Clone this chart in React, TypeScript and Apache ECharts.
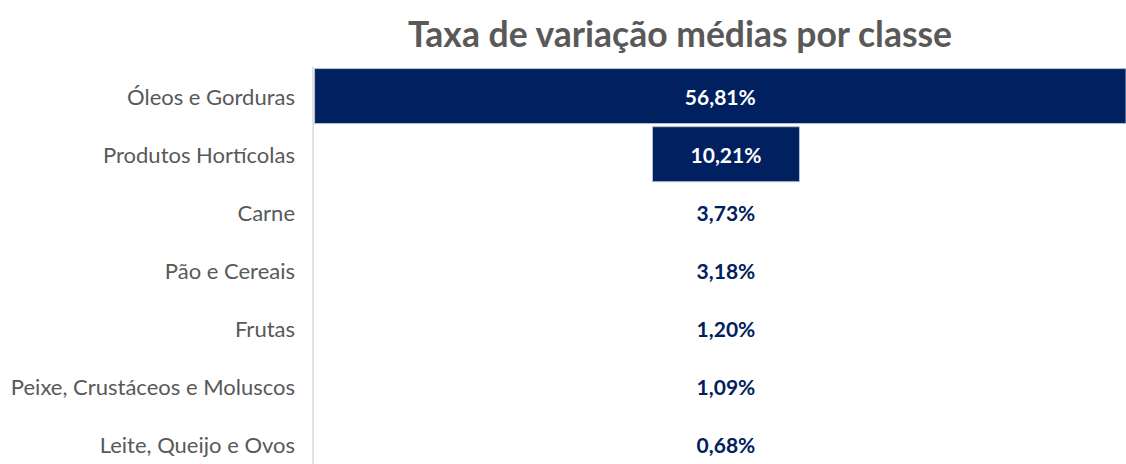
import React, { useEffect, useRef } from "react";
import * as echarts from "echarts";

const categories = [
  "Óleos e Gorduras",
  "Produtos Hortícolas",
  "Carne",
  "Pão e Cereais",
  "Frutas",
  "Peixe, Crustáceos e Moluscos",
  "Leite, Queijo e Ovos",
];
const values = [56.81, 10.21, 3.73, 3.18, 1.2, 1.09, 0.68];
const filled = [true, true, false, false, false, false, false];

const NAVY = "#002060";
const AXIS_MIN = 0;
const AXIS_MAX = 56.07;
const CENTER = 28.48;

export default function App() {
  const ref = useRef<HTMLDivElement>(null);
  useEffect(() => {
    document.body.style.margin = "0";
    document.body.style.overflow = "hidden";
    document.documentElement.style.overflow = "hidden";
    if (!ref.current) return;
    const chart = echarts.init(ref.current, null, { renderer: "svg" });
    chart.setOption({
      animation: false,
      title: {
        text: "Taxa de variação médias por classe",
        left: 675,
        top: 10,
        textAlign: "center",
        textStyle: {
          fontFamily: "Lato",
          fontWeight: "bold",
          fontSize: 35.5,
          color: "#595959",
        },
      },
      grid: { left: 313, right: 0, top: 67, height: 407, containLabel: false },
      xAxis: {
        type: "value",
        min: AXIS_MIN,
        max: AXIS_MAX,
        show: false,
      },
      yAxis: {
        type: "category",
        data: categories,
        inverse: true,
        axisLine: { show: true, lineStyle: { color: "#d9d9d9", width: 1.5 } },
        axisTick: { show: false },
        axisLabel: {
          fontFamily: "Lato",
          fontSize: 22,
          color: "#595959",
          margin: 18,
        },
      },
      series: [
        {
          type: "bar",
          stack: "f",
          silent: true,
          itemStyle: { color: "transparent" },
          data: values.map((v) => CENTER - v / 2),
          barWidth: 56,
        },
        {
          type: "bar",
          stack: "f",
          barWidth: 56,
          data: values.map((v, i) => ({
            value: v,
            itemStyle: filled[i]
              ? { color: NAVY, borderColor: "#b4c0d8", borderWidth: 1 }
              : { color: "transparent", borderWidth: 0 },
            label: { color: filled[i] ? "#ffffff" : NAVY },
          })),
          label: {
            show: true,
            position: "inside",
            fontFamily: "Lato",
            fontWeight: "bold",
            fontSize: 21,
            formatter: (p: any) => p.value.toFixed(2).replace(".", ",") + "%",
          },
        },
      ],
    });
    return () => chart.dispose();
  }, []);
  return <div ref={ref} style={{ width: 1126, height: 480 }} />;
}
